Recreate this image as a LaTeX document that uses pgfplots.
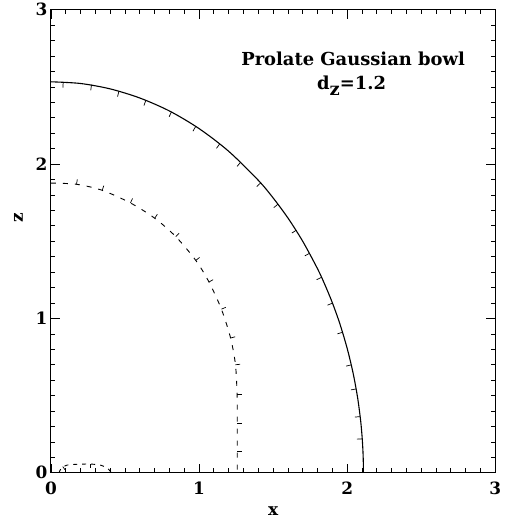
\documentclass[border=0pt]{standalone}
\usepackage{fontspec}
\setmainfont{DejaVu Serif}
\usepackage{pgfplots}
\usepackage{pgfplotstable}
\pgfplotsset{compat=1.18}

% outer contour (solid)
\pgfplotstableread{
x      y
0.000  2.533
0.200  2.522
0.400  2.487
0.600  2.428
0.800  2.344
1.000  2.230
1.200  2.083
1.400  1.895
1.500  1.781
1.600  1.651
1.700  1.500
1.800  1.322
1.850  1.218
1.900  1.102
1.950  0.968
2.000  0.807
2.040  0.647
2.070  0.491
2.090  0.348
2.100  0.246
2.106  0.156
2.109  0.078
2.110  0.000
}\outerline

% downhill ticks on the outer contour
\pgfplotstableread{
x      y      u       v
0.083  2.531  -0.002  -0.036
0.274  2.514  -0.005  -0.036
0.459  2.472  -0.009  -0.035
0.641  2.413  -0.013  -0.034
0.814  2.338  -0.016  -0.032
0.978  2.244  -0.019  -0.031
1.140  2.131  -0.022  -0.029
1.281  2.012  -0.024  -0.027
1.416  1.878  -0.026  -0.024
1.533  1.740  -0.028  -0.022
1.657  1.572  -0.030  -0.019
1.746  1.422  -0.032  -0.017
1.827  1.266  -0.033  -0.015
1.901  1.099  -0.034  -0.013
1.969  0.910  -0.035  -0.010
2.028  0.699  -0.035  -0.008
2.061  0.543  -0.036  -0.006
2.088  0.364  -0.036  -0.003
2.102  0.220  -0.036  -0.002
}\outerticks

% inner contour (dashed)
\pgfplotstableread{
x      y
0.000  1.877
0.173  1.869
0.346  1.830
0.537  1.748
0.701  1.649
0.843  1.530
0.978  1.376
1.067  1.236
1.151  1.060
1.213  0.873
1.246  0.700
1.257  0.506
1.258  0.323
1.258  0.140
1.258  0.000
}\innerline

% ticks on the inner contour
\pgfplotstableread{
x      y      u       v
0.173  1.869  0.005   0.032
0.346  1.830  0.011   0.030
0.537  1.748  0.014   0.029
0.701  1.649  0.018   0.026
0.843  1.530  0.022   0.022
0.978  1.376  0.026   0.019
1.067  1.236  0.028   0.015
1.151  1.060  0.030   0.012
1.213  0.873  0.031   0.008
1.246  0.700  0.032   0.003
1.257  0.506  0.032   0.000
1.258  0.323  0.032   0.000
1.258  0.140  0.032   0.000
}\innerticks

% small contour near the origin
\pgfplotstableread{
x      y
0.055  0.000
0.070  0.030
0.110  0.050
0.200  0.056
0.280  0.056
0.340  0.048
0.380  0.030
0.410  0.000
}\smallline

\pgfplotstableread{
x      y      u       v
0.263  0.056  0.000  -0.026
0.080  0.040  0.015  -0.020
}\smallticks

\begin{document}
\begin{tikzpicture}
\begin{axis}[
  scale only axis,
  width=445bp, height=463.8bp,
  xmin=0, xmax=3, ymin=0, ymax=3,
  xtick={0,1,2,3}, ytick={0,1,2,3},
  xticklabels={\textbf{0},\textbf{1},\textbf{2},\textbf{3}},
  yticklabels={\textbf{0},\textbf{1},\textbf{2},\textbf{3}},
  minor tick num=9,
  tick align=inside,
  major tick length=9bp, minor tick length=4.5bp,
  every tick/.append style={black, line width=0.7bp},
  axis line style={black, line width=0.9bp},
  tick label style={font=\fontsize{17}{17}\selectfont\bfseries},
  xticklabel style={yshift=-6bp},
  xlabel={x}, ylabel={z},
  label style={font=\fontsize{17}{17}\selectfont\bfseries},
  xlabel style={yshift=-5bp},
  ylabel style={at={(ticklabel cs:0.55)}, yshift=6bp},
]
\addplot[black, line width=1.1bp, smooth] table[x=x, y=y] {\outerline};
\addplot[black, line width=0.7bp, no markers,
  quiver={u=\thisrow{u}, v=\thisrow{v}}] table[x=x, y=y] {\outerticks};

\addplot[black, line width=0.9bp, dash pattern=on 5bp off 7bp, smooth] table[x=x, y=y] {\innerline};
\addplot[black, line width=0.7bp, no markers,
  quiver={u=\thisrow{u}, v=\thisrow{v}}] table[x=x, y=y] {\innerticks};

\addplot[black, line width=0.9bp, dash pattern=on 4bp off 5bp, smooth] table[x=x, y=y] {\smallline};
\addplot[black, line width=0.7bp, no markers,
  quiver={u=\thisrow{u}, v=\thisrow{v}}] table[x=x, y=y] {\smallticks};

\node[anchor=base, font=\fontsize{18}{18}\selectfont\bfseries]
  at (axis cs:2.04,2.641) {Prolate Gaussian bowl};
\node[anchor=base, font=\fontsize{18}{18}\selectfont\bfseries]
  at (axis cs:2.03,2.484) {d\raisebox{-6bp}{z}=1.2};
\end{axis}
\path[use as bounding box]
  ([xshift=-51bp,yshift=-45.7bp]current axis.south west) rectangle
  ([xshift=5bp,yshift=9.5bp]current axis.north east);
\end{tikzpicture}
\end{document}
